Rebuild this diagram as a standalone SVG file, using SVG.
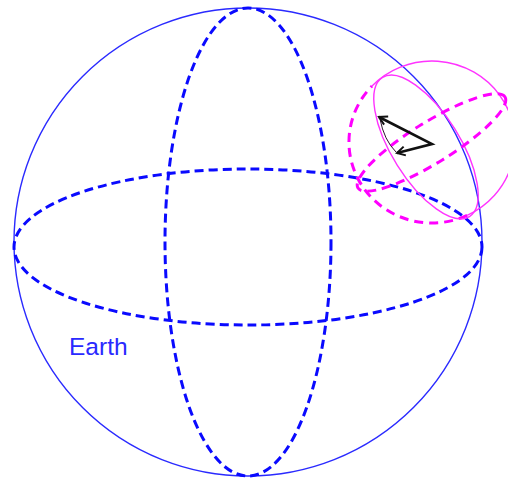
<svg xmlns="http://www.w3.org/2000/svg" width="508" height="480" viewBox="0 0 508 480">
  <defs>
    <style>
      .earth-outline { fill: none; stroke: #2a2aff; stroke-width: 1.4; }
      .earth-dash { fill: none; stroke: #0a0aff; stroke-width: 3; stroke-dasharray: 9 5; }
      .loc-solid { fill: none; stroke: #ff33ff; stroke-width: 1.4; }
      .loc-dash { fill: none; stroke: #ff00ff; stroke-width: 3; stroke-dasharray: 9 6; }
      .vec { fill: none; stroke: #111111; stroke-width: 2.6; stroke-linejoin: miter; stroke-miterlimit: 10; }
      .label { font-family: "Liberation Sans", Arial, sans-serif; font-size: 24.5px; fill: #2a2aff; }
    </style>
    <marker id="openHead" viewBox="-10 -6 12 12" markerWidth="12" markerHeight="12" refX="0" refY="0" orient="auto-start-reverse" markerUnits="userSpaceOnUse">
      <path d="M -8 -4.5 L 0 0 L -8 4.5" fill="none" stroke="#111111" stroke-width="2"/>
    </marker>
  </defs>
  <rect width="508" height="480" fill="#ffffff"/>

  <g id="earth">
    <circle class="earth-outline" cx="248" cy="242" r="234"/>
    <ellipse class="earth-dash" cx="248" cy="242" rx="83" ry="234"/>
    <ellipse class="earth-dash" cx="248" cy="247" rx="234" ry="78"/>
    <text class="label" x="69" y="355">Earth</text>
  </g>

  <g id="local-sphere">
    <path class="loc-solid" d="M 372 86 A 83 81 0 1 1 467.1 215.4"/>
    <path class="loc-dash" d="M 467.1 215.4 A 83 81 0 0 1 372 86"/>
    <ellipse class="loc-solid" cx="426" cy="147" rx="82" ry="34" transform="rotate(58 426 147)"/>
    <ellipse class="loc-dash" cx="431.5" cy="142.5" rx="86.5" ry="20.5" transform="rotate(-31.8 431.5 142.5)"/>
  </g>

  <g id="connectors">
    <path d="M 380 119 Q 384 140 396 152" fill="none" stroke="#301030" stroke-width="1"/>
    <path class="vec" d="M 379 117 L 432 144 L 397 153" marker-start="url(#openHead)" marker-end="url(#openHead)"/>
  </g>
</svg>
